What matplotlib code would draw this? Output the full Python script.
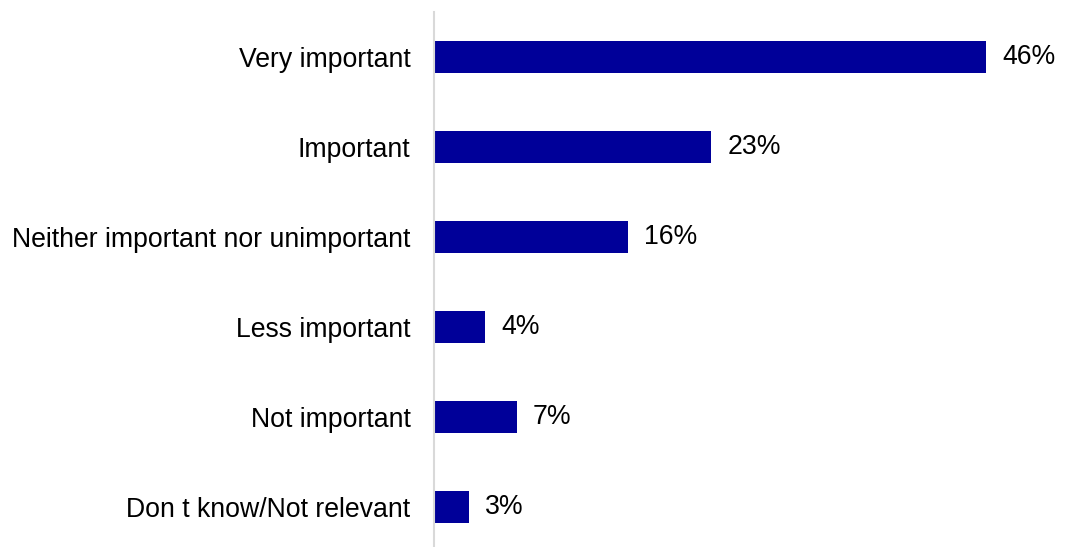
import matplotlib
matplotlib.use("Agg")
import matplotlib.pyplot as plt

# Data
categories = ["Very important", "Important", "Neither important nor unimportant",
              "Less important", "Not important", "Don t know/Not relevant"]
values = [46.0, 23.1, 16.2, 4.25, 6.9, 2.9]
labels = ["46%", "23%", "16%", "4%", "7%", "3%"]

plt.rcParams['font.family'] = ['Liberation Sans', 'DejaVu Sans']

fig = plt.figure(figsize=(10.65, 5.47), dpi=100)
px = 1 / 12.0  # data units per pixel (approx 12 px per percent)
left = 434 / 1065
top = 1 - 12 / 547
bottom = -5 / 547
ax = fig.add_axes([left, bottom, 1 - left, top - bottom])

ypos = list(range(len(categories)))
ax.barh(ypos, values, height=0.35, color="#000099")

for y, v, lab in zip(ypos, values, labels):
    ax.text(v + 16 * px, y, lab, va="center", ha="left", fontsize=19.2, color="#000000")

ax.set_yticks(ypos)
ax.set_yticklabels(categories, fontsize=19.2)
ax.tick_params(axis="y", length=0, pad=17)
ax.set_xticks([])
ax.set_xlim(0, (1065 - 434) / 12.0)
ax.set_ylim(len(categories) - 0.5, -0.5)

for s in ["top", "right", "bottom"]:
    ax.spines[s].set_visible(False)
ax.spines["left"].set_color("#d9d9d9")
ax.spines["left"].set_linewidth(1.5)

fig.savefig("out.png", dpi=100)
